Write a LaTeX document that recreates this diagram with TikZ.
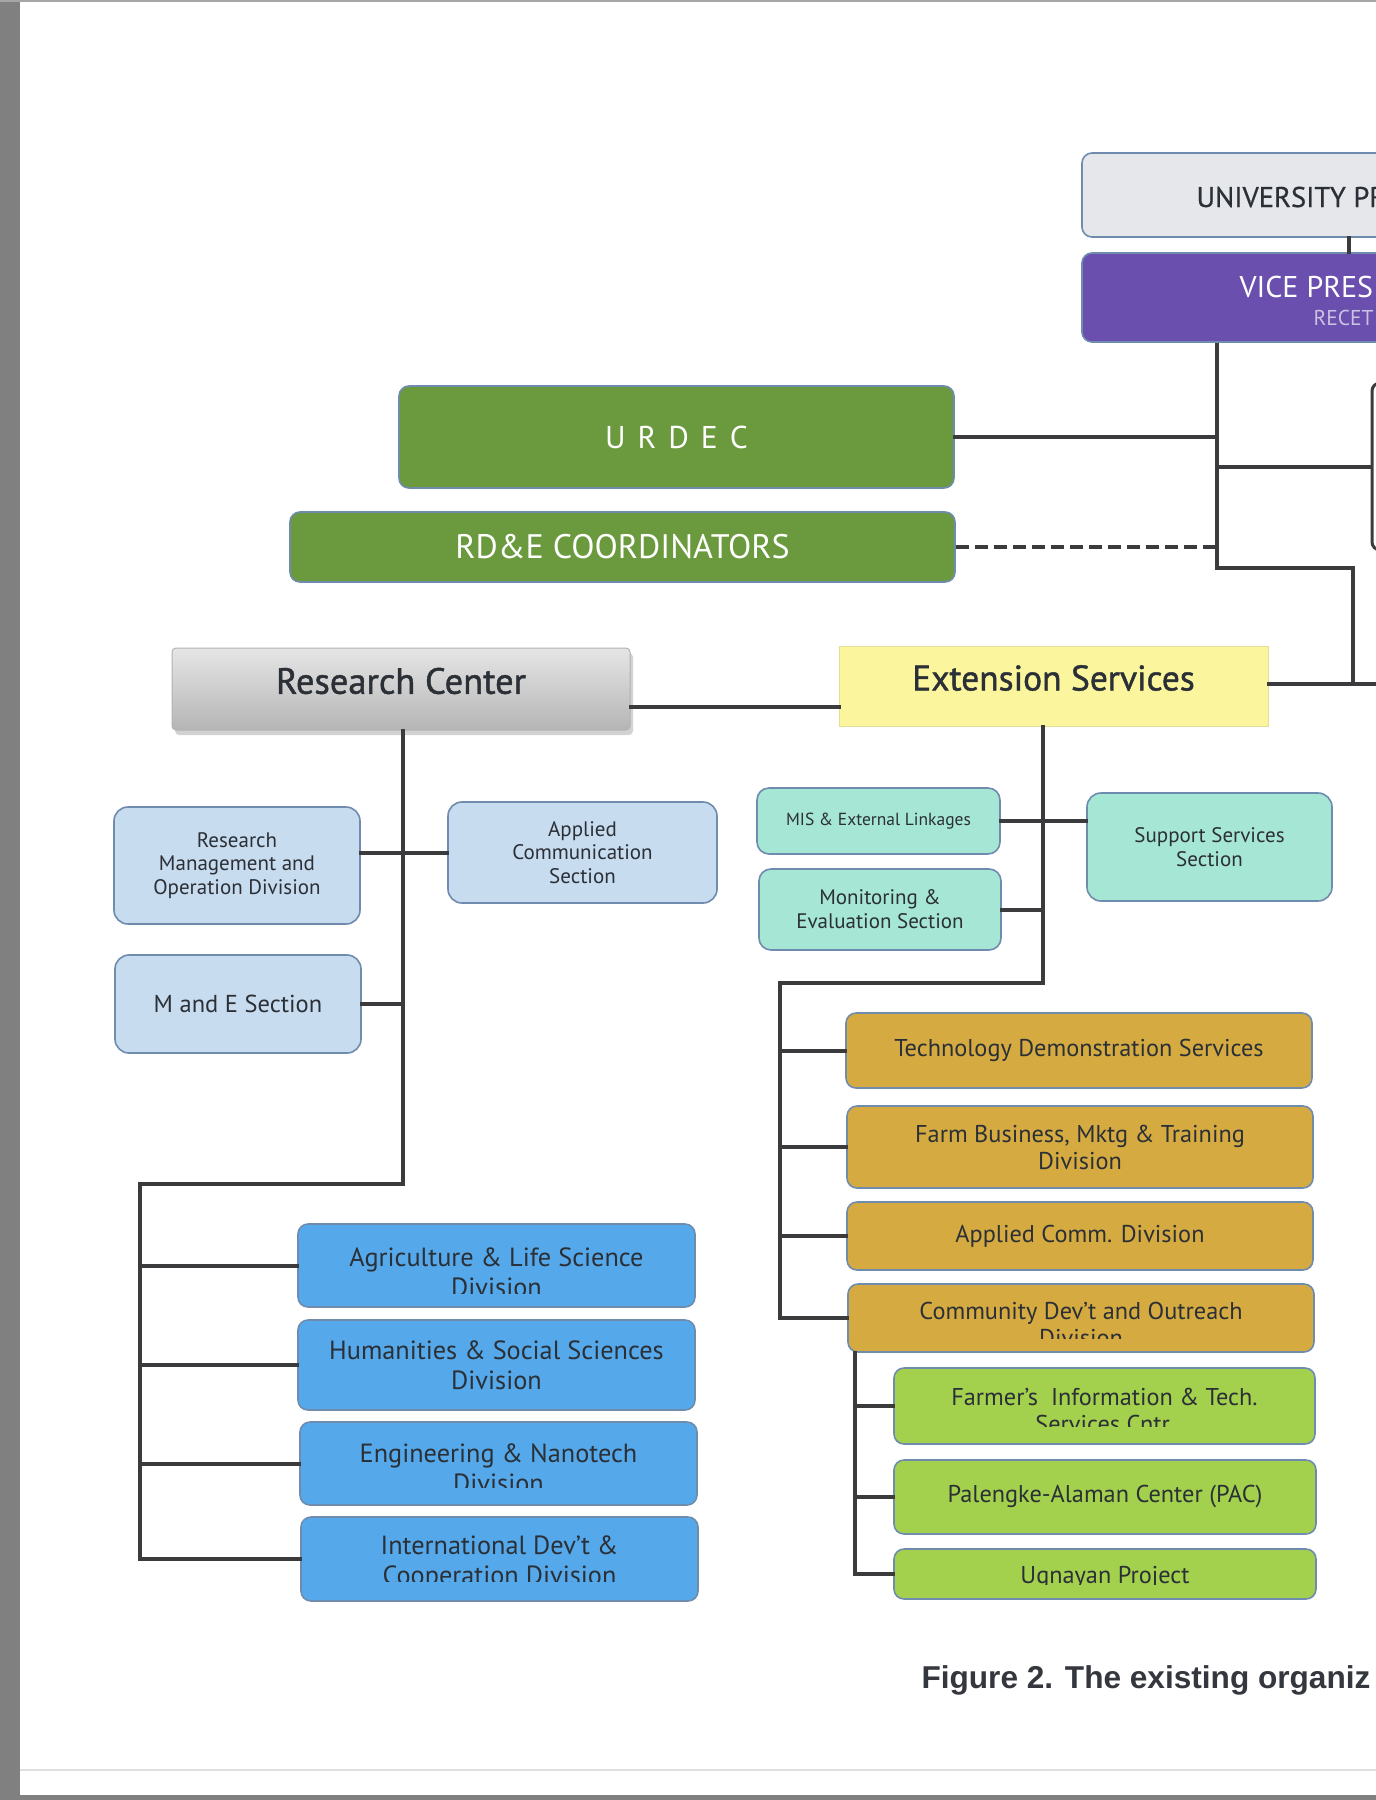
\documentclass[tikz,border=0pt]{standalone}
\usepackage{fontspec}
\setmainfont{PT Sans}
\newfontfamily\capfont{Liberation Sans}
\usetikzlibrary{shadows}
\definecolor{linkGray}{HTML}{3B3B3D}
\definecolor{edgeBlue}{HTML}{6F8CAE}
\definecolor{txtDark}{HTML}{2B2F36}
\definecolor{presGray}{HTML}{E6E7EB}
\definecolor{vpPurple}{HTML}{6A4FAE}
\definecolor{urGreen}{HTML}{6B993D}
\definecolor{esYellow}{HTML}{FBF59E}
\definecolor{paleBlue}{HTML}{C8DCEF}
\definecolor{paleTeal}{HTML}{A6E6D4}
\definecolor{divBlue}{HTML}{55A9EA}
\definecolor{goldBox}{HTML}{D5AB41}
\definecolor{limeBox}{HTML}{A3D04D}
\tikzset{
  box/.style={draw=edgeBlue, line width=1.6pt, rounded corners=10pt, inner sep=0pt,
    align=center, text=txtDark},
  link/.style={draw=linkGray, line width=4pt, line cap=rect},
  bigfont/.style={font=\fontsize{36.5}{40}\selectfont},
  midfont/.style={font=\fontsize{26.3}{30}\selectfont},
  goldfont/.style={font=\fontsize{24.3}{27}\selectfont},
  smallfont/.style={font=\fontsize{21}{23.5}\selectfont},
}
\begin{document}
\begin{tikzpicture}[x=1pt,y=-1pt]
\useasboundingbox (0,0) rectangle (1376,1800);
\clip (0,0) rectangle (1376,1800);
% page and scan edges
\fill[white] (0,0) rectangle (1376,1800);
\fill[gray] (0,0) rectangle (20,1800);
\fill[gray!70] (0,0) rectangle (1376,2);
\draw[gray!25, line width=1.5pt] (20,1770) -- (1376,1770);
\fill[gray] (0,1795) rectangle (1376,1800);

% top of the chart
\node[box, fill=presGray, minimum width=600pt, minimum height=84pt] (up) at (1382,195) {};
\node[anchor=base west, text=txtDark, font=\fontsize{28.5}{34}\selectfont] (upt) at (1193,207) {\addfontfeatures{FakeBold=0.6}UNIVERSITY PR};
\node[box, fill=vpPurple, minimum width=600pt, minimum height=89pt] (vp) at (1382,297.5) {};
\node[anchor=base west, text=white, font=\fontsize{30}{36}\selectfont] (vpt) at (1236,297) {VICE PRES};
\node[anchor=base west, text=white!65!vpPurple, font=\fontsize{21.5}{24}\selectfont] (vpr) at (1310,325) {RECET};
\node[draw=linkGray, line width=3pt, rounded corners=8pt, fill=white, minimum width=60pt, minimum height=167pt] (rbox) at (1402,466.5) {};

\node[box, fill=urGreen, text=white, minimum width=555pt, minimum height=102pt, font=\fontsize{31.5}{34}\selectfont] (urdec) at (676.5,437) {\addfontfeatures{LetterSpace=38}URDEC};
\node[box, fill=urGreen, text=white, minimum width=665pt, minimum height=70pt, font=\fontsize{34}{36}\selectfont] (rde) at (622.5,547) {RD\&E COORDINATORS};

% the two centers
\node[box, draw=gray!60, line width=1pt, rounded corners=4pt, top color=gray!20, bottom color=gray!58,
  drop shadow={shadow xshift=3pt, shadow yshift=-5pt, opacity=0.35},
  minimum width=458pt, minimum height=82pt] (rc) at (401,689) {};
\node[bigfont, text=txtDark] (rct) at ([yshift=8pt]rc.center) {\addfontfeatures{FakeBold=1.2}Research Center};
\node[box, draw=esYellow!80!gray, line width=1pt, rounded corners=0pt, fill=esYellow,
  minimum width=429pt, minimum height=80pt] (es) at (1053.5,686) {};
\node[font=\fontsize{35.5}{40}\selectfont, text=txtDark] (est) at ([yshift=8pt]es.center) {\addfontfeatures{FakeBold=1.2}Extension Services};

% research side
\node[box, fill=paleBlue, rounded corners=14pt, minimum width=246pt, minimum height=117pt, smallfont] (rmod) at (237,865.5) {Research\\Management and\\Operation Division};
\node[box, fill=paleBlue, rounded corners=14pt, minimum width=269pt, minimum height=101pt, smallfont] (acs) at (582.5,852.5) {Applied\\Communication\\Section};
\node[box, fill=paleBlue, rounded corners=14pt, minimum width=246pt, minimum height=98pt, font=\fontsize{24.5}{28}\selectfont] (mes) at (238,1004) {M and E Section};

\node[box, fill=divBlue, minimum width=397pt, minimum height=83pt] (als) at (496.5,1265.5) {};
\node[box, fill=divBlue, minimum width=397pt, minimum height=90pt, midfont] (hss) at (496.5,1365) {Humanities \& Social Sciences\\Division};
\node[box, fill=divBlue, minimum width=397pt, minimum height=83pt] (enr) at (498.5,1463.5) {};
\node[box, fill=divBlue, minimum width=397pt, minimum height=84pt] (idc) at (499.5,1559) {};
\begin{scope}
  \clip (als.north west) rectangle (als.east |- 0,1293);
  \node[midfont, align=center, text=txtDark] (alst) at (496.5,1272) {Agriculture \& Life Science\\Division};
\end{scope}
\begin{scope}
  \clip (enr.north west) rectangle (enr.east |- 0,1487);
  \node[midfont, align=center, text=txtDark] (enrt) at (498.5,1468) {Engineering \& Nanotech\\Division};
\end{scope}
\begin{scope}
  \clip (idc.north west) rectangle (idc.east |- 0,1581);
  \node[midfont, align=center, text=txtDark] (idct) at (499.5,1562.5) {International Dev't \&\\Cooperation Division};
\end{scope}

% extension side
\node[box, fill=paleTeal, rounded corners=12pt, minimum width=243pt, minimum height=66pt, font=\fontsize{17.5}{20}\selectfont] (mis) at (878.5,821) {MIS \& External Linkages};
\node[box, fill=paleTeal, rounded corners=12pt, minimum width=242pt, minimum height=81pt, font=\fontsize{21}{24}\selectfont] (mev) at (880,909.5) {Monitoring \&\\Evaluation Section};
\node[box, fill=paleTeal, rounded corners=14pt, minimum width=245pt, minimum height=108pt, font=\fontsize{21}{23.5}\selectfont] (sss) at (1209.5,847) {Support Services\\Section};

\node[box, fill=goldBox, minimum width=466pt, minimum height=75pt, goldfont] (tds) at (1079,1050.5) {Technology Demonstration Services};
\node[box, fill=goldBox, minimum width=466pt, minimum height=82pt, goldfont] (fbm) at (1080,1147) {Farm Business, Mktg \& Training\\Division};
\node[box, fill=goldBox, minimum width=466pt, minimum height=68pt, goldfont] (acd) at (1080,1236) {Applied Comm. Division};
\node[box, fill=goldBox, minimum width=466pt, minimum height=68pt] (cdo) at (1081,1318) {};
\begin{scope}
  \clip (cdo.north west) rectangle (cdo.east |- 0,1338);
  \node[goldfont, align=center, text=txtDark] (cdot) at (1081,1324) {Community Dev't and Outreach\\Division};
\end{scope}

\node[box, fill=limeBox, minimum width=421pt, minimum height=76pt] (fit) at (1104.5,1406) {};
\node[box, fill=limeBox, minimum width=422pt, minimum height=74pt, goldfont] (pac) at (1105,1497) {Palengke-Alaman Center (PAC)};
\node[box, fill=limeBox, minimum width=422pt, minimum height=50pt] (ugn) at (1105,1574) {};
\begin{scope}
  \clip (fit.north west) rectangle (fit.east |- 0,1426);
  \node[goldfont, align=center, text=txtDark] (fitt) at (1104.5,1410) {Farmer's\ \ Information \& Tech.\\Services Cntr.};
\end{scope}
\begin{scope}
  \clip (ugn.north west) rectangle (ugn.east |- 0,1584);
  \node[goldfont, text=txtDark] (ugnt) at (1105,1577) {Ugnayan Project};
\end{scope}

% connectors at the top
\coordinate (vpT) at (vp.south -| 1217,0);
\coordinate (vpE) at (1217,568);
\coordinate (vpF) at (1353,568);
\coordinate (esR) at (1390,684);
\draw[link] (up.south -| 1349,0) -- (vp.north -| 1349,0);
\draw[link, line cap=butt] (vpT) -- (vpE) -- (vpF) -- (vpF |- esR);
\draw[link] (urdec.east) -- (urdec.east -| vpT);
\draw[link] (vpT |- rbox.west) -- (rbox.west);
\draw[link, line cap=butt, dash pattern=on 13pt off 6pt] (rde.east) -- (rde.east -| vpT);
\draw[link] ([yshift=2pt]es.east) -- (esR);
\draw[link] ([yshift=-18pt]rc.east) -- ([yshift=-21pt]es.west);

% research center tree
\coordinate (rcT) at (rc.south -| 403,0);
\coordinate (rcB) at (403,1184);
\coordinate (rcL) at (140,1184);
\draw[link] (rcT) -- (rcB) -- (rcL) -- (rcL |- idc.west);
\draw[link] (rmod.east |- acs.west) -- (acs.west);
\draw[link] (mes.east) -- (mes.east -| rcT);
\foreach \n in {als,hss,enr,idc}
  \draw[link] (rcL |- \n.west) -- (\n.west);

% extension services tree
\coordinate (esT) at (es.south -| 1043,0);
\coordinate (esB) at (1043,983);
\coordinate (esL) at (780,983);
\draw[link] (esT) -- (esB) -- (esL) -- (esL |- cdo.west);
\draw[link] (mis.east) -- (mis.east -| sss.west);
\draw[link] (mev.east) -- (mev.east -| esT);
\foreach \n in {tds,fbm,acd,cdo}
  \draw[link] (esL |- \n.west) -- (\n.west);
\coordinate (cdT) at (cdo.south -| 855,0);
\draw[link] (cdT) -- (cdT |- ugn.west);
\foreach \n in {fit,pac,ugn}
  \draw[link] (cdT |- \n.west) -- (\n.west);

\node[anchor=base west, text=txtDark!90!gray, font=\capfont\bfseries\fontsize{31.6}{36}\selectfont] (cap) at (918,1688) {Figure 2. The existing organiz};
\end{tikzpicture}
\end{document}
